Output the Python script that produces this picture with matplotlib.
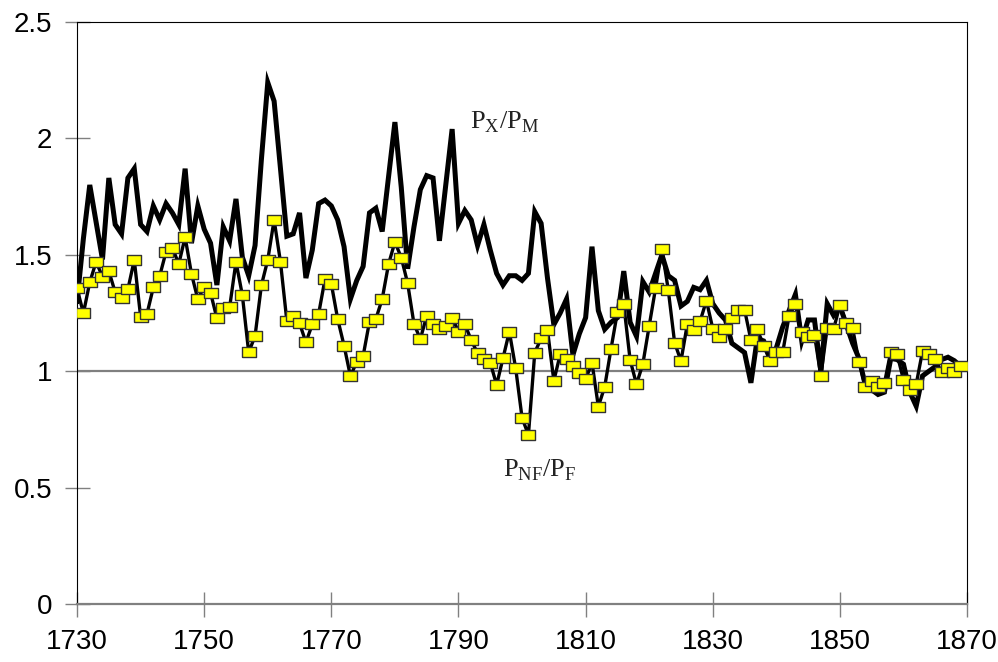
import numpy as np
import matplotlib
matplotlib.use('Agg')
import matplotlib.pyplot as plt

# Px/Pm, annual, 1730-1869
px_pm = [1.30, 1.57, 1.80, 1.64, 1.48, 1.83, 1.63, 1.59, 1.83, 1.87,
         1.63, 1.60, 1.71, 1.65, 1.72, 1.68, 1.63, 1.87, 1.55, 1.71,
         1.61, 1.55, 1.37, 1.62, 1.56, 1.74, 1.49, 1.41, 1.54, 1.91,
         2.24, 2.16, 1.87, 1.58, 1.59, 1.68, 1.40, 1.52, 1.72, 1.735,
         1.71, 1.65, 1.535, 1.31, 1.39, 1.45, 1.68, 1.70, 1.60, 1.835,
         2.07, 1.79, 1.44, 1.62, 1.78, 1.84, 1.83, 1.56, 1.80, 2.04,
         1.635, 1.69, 1.65, 1.54, 1.63, 1.52, 1.42, 1.37, 1.41, 1.41,
         1.39, 1.42, 1.685, 1.635, 1.40, 1.20, 1.25, 1.31, 1.07, 1.16,
         1.23, 1.535, 1.26, 1.18, 1.21, 1.23, 1.43, 1.21, 1.15, 1.385,
         1.34, 1.42, 1.50, 1.41, 1.39, 1.28, 1.30, 1.36, 1.35, 1.39,
         1.29, 1.25, 1.22, 1.12, 1.10, 1.08, 0.95, 1.14, 1.13, 1.07,
         1.10, 1.19, 1.26, 1.33, 1.13, 1.22, 1.22, 1.00, 1.29, 1.24,
         1.28, 1.20, 1.12, 1.055, 0.94, 0.92, 0.90, 0.91, 1.055, 1.05,
         1.03, 0.91, 0.85, 0.98, 1.00, 1.02, 1.05, 1.06, 1.045, 1.02]

# Pnf/Pf, annual, 1730-1869
pnf_pf = [1.356, 1.249, 1.382, 1.47, 1.406, 1.43, 1.339, 1.314, 1.352, 1.478,
          1.234, 1.246, 1.36, 1.409, 1.513, 1.53, 1.46, 1.576, 1.418, 1.309,
          1.363, 1.337, 1.227, 1.27, 1.274, 1.47, 1.327, 1.081, 1.151, 1.369,
          1.478, 1.65, 1.469, 1.216, 1.237, 1.206, 1.124, 1.201, 1.246, 1.395,
          1.375, 1.224, 1.11, 0.979, 1.04, 1.065, 1.213, 1.224, 1.31, 1.46,
          1.555, 1.488, 1.378, 1.203, 1.138, 1.237, 1.203, 1.18, 1.195, 1.23,
          1.17, 1.201, 1.134, 1.077, 1.052, 1.037, 0.941, 1.055, 1.17, 1.012,
          0.80, 0.726, 1.08, 1.141, 1.177, 0.959, 1.072, 1.051, 1.022, 0.991,
          0.965, 1.037, 0.848, 0.933, 1.097, 1.254, 1.287, 1.048, 0.944, 1.031,
          1.195, 1.356, 1.524, 1.349, 1.122, 1.044, 1.203, 1.177, 1.214, 1.303,
          1.183, 1.148, 1.183, 1.23, 1.263, 1.264, 1.134, 1.18, 1.11, 1.044,
          1.084, 1.081, 1.237, 1.287, 1.167, 1.146, 1.155, 0.979, 1.187, 1.18,
          1.284, 1.208, 1.184, 1.041, 0.933, 0.959, 0.933, 0.948, 1.084, 1.072,
          0.962, 0.919, 0.944, 1.087, 1.074, 1.051, 0.995, 1.012, 0.998, 1.022]

years = np.arange(1730, 1730 + len(px_pm))
years2 = np.arange(1730, 1730 + len(pnf_pf))

x_ticks = [1730, 1750, 1770, 1790, 1810, 1830, 1850, 1870]
y_ticks = [0, 0.5, 1, 1.5, 2, 2.5]
y_tick_labels = ['0', '0.5', '1', '1.5', '2', '2.5']

plt.rcParams['mathtext.fontset'] = 'custom'
plt.rcParams['mathtext.rm'] = 'Liberation Serif'

fig = plt.figure(figsize=(9.98, 6.62), dpi=100)
ax = fig.add_axes([0.0772, 0.0876, 0.8918, 0.8792])

# reference line at 1
ax.axhline(1, color='#808080', lw=1.6, zorder=1)

ax.plot(years, px_pm, color='black', lw=3.6, solid_joinstyle='miter', zorder=2)

rect = [(-1, -0.7), (1, -0.7), (1, 0.7), (-1, 0.7), (-1, -0.7)]
ax.plot(years2, pnf_pf, color='black', lw=2.4, marker=rect, markersize=10,
        markerfacecolor='#FFFF00', markeredgecolor='#333333', markeredgewidth=1,
        zorder=3)

ax.set_xlim(1730, 1870)
ax.set_ylim(0, 2.5)
ax.set_xticks(x_ticks)
ax.set_yticks(y_ticks)
ax.set_yticklabels(y_tick_labels)
ax.tick_params(direction='inout', length=18, width=1, color='#808080',
               labelsize=20, pad=9)
for lab in ax.get_xticklabels() + ax.get_yticklabels():
    lab.set_fontfamily('Liberation Sans')

ax.spines['left'].set_color('black')
ax.spines['top'].set_color('black')
ax.spines['right'].set_color('black')
ax.spines['bottom'].set_color('#808080')
ax.spines['bottom'].set_linewidth(1.6)

ax.text(1791.8, 2.07, r'P$_\mathrm{X}$/P$_\mathrm{M}$', fontsize=19,
        family='Liberation Serif', ha='left', va='center', color='#222222')
ax.text(1797, 0.575, r'P$_\mathrm{NF}$/P$_\mathrm{F}$', fontsize=19,
        family='Liberation Serif', ha='left', va='center', color='#222222')

fig.savefig('out.png', dpi=100)
